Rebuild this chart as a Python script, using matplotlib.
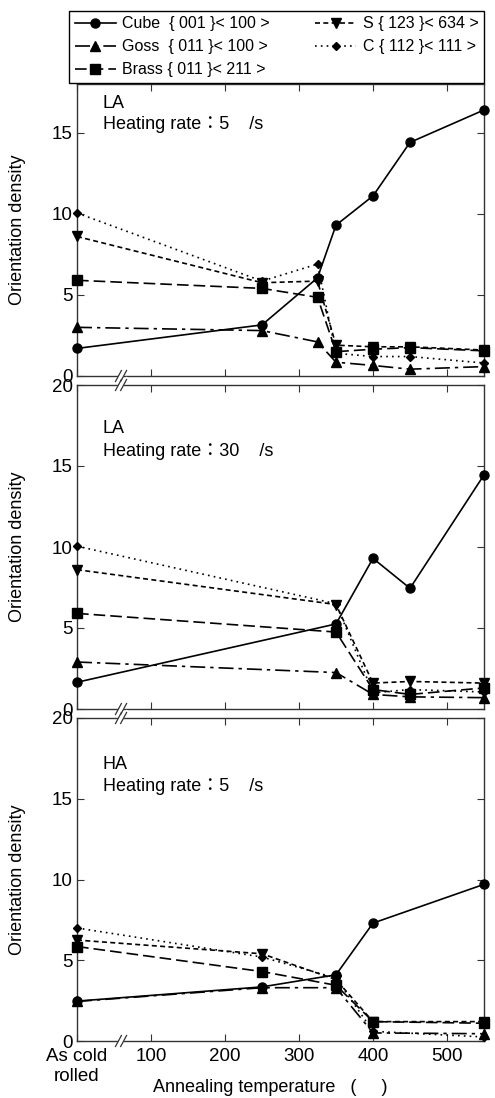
import numpy as np
import matplotlib
matplotlib.use("Agg")
import matplotlib.pyplot as plt

plt.rcParams['font.family'] = ['Liberation Sans', 'Noto Sans CJK JP', 'DejaVu Sans']

# ---- data ----
names = ["Cube  { 001 }< 100 >", "Goss  { 011 }< 100 >", "Brass { 011 }< 211 >",
         "S { 123 }< 634 >", "C { 112 }< 111 >"]

x_la5 = [0, 250, 325, 350, 400, 450, 550]
cube_la5 = [1.7, 3.15, 6.05, 9.3, 11.1, 14.4, 16.4]
goss_la5 = [3.0, 2.8, 2.1, 0.85, 0.65, 0.42, 0.58]
brass_la5 = [5.9, 5.4, 4.85, 1.5, 1.65, 1.75, 1.55]
s_la5 = [8.6, 5.75, 5.85, 1.9, 1.8, 1.8, 1.6]
c_la5 = [10.05, 5.85, 6.9, 1.4, 1.2, 1.2, 0.8]

x_la30 = [0, 350, 400, 450, 550]
cube_la30 = [1.65, 5.25, 9.3, 7.45, 14.45]
goss_la30 = [2.9, 2.25, 0.9, 0.75, 0.7]
brass_la30 = [5.9, 4.75, 1.2, 0.9, 1.3]
s_la30 = [8.6, 6.45, 1.6, 1.7, 1.6]
c_la30 = [10.05, 6.5, 1.0, 1.2, 1.05]

x_ha5 = [0, 250, 350, 400, 550]
cube_ha5 = [2.47, 3.35, 4.1, 7.3, 9.7]
goss_ha5 = [2.45, 3.3, 3.3, 0.5, 0.45]
brass_ha5 = [5.85, 4.3, 3.45, 1.2, 1.1]
s_ha5 = [6.25, 5.4, 3.8, 1.2, 1.2]
c_ha5 = [7.0, 5.2, 3.9, 0.6, 0.25]

xticks = [0, 100, 200, 300, 400, 500]
xticklabels = ["As cold\nrolled", "100", "200", "300", "400", "500"]

panels = [
    ("LA", "Heating rate：5    /s", x_la5, [cube_la5, goss_la5, brass_la5, s_la5, c_la5]),
    ("LA", "Heating rate：30    /s", x_la30, [cube_la30, goss_la30, brass_la30, s_la30, c_la30]),
    ("HA", "Heating rate：5    /s", x_ha5, [cube_ha5, goss_ha5, brass_ha5, s_ha5, c_ha5]),
]

styles = [
    dict(marker="o", ms=6.5, ls="-"),
    dict(marker="^", ms=6.5, ls=(0, (9, 3, 2, 3))),
    dict(marker="s", ms=7, ls=(0, (7, 3))),
    dict(marker="v", ms=6.5, ls=(0, (3, 2))),
    dict(marker="D", ms=4.5, ls=(0, (1, 2.5))),
]

W, H = 495, 1098
fig = plt.figure(figsize=(W / 100, H / 100), dpi=100)
left, right = 77, 484
boxes = [(84, 376, 18), (385, 709, 20), (718, 1041, 20)]
text_y = [(17.35, 16.0), (17.85, 16.45), (17.65, 16.3)]

spine_c = "#333333"
handles = []
for i, (tag, rate, xs, series) in enumerate(panels):
    top, bot, ymax = boxes[i]
    ax = fig.add_axes([left / W, 1 - bot / H, (right - left) / W, (bot - top) / H])
    for ys, st in zip(series, styles):
        ln, = ax.plot(xs, ys, color="black", lw=1.2, linestyle=st["ls"],
                      marker=st["marker"], ms=st["ms"], clip_on=False, zorder=3)
        if i == 0:
            handles.append(ln)
    ax.set_xlim(0, 550)
    ax.set_ylim(0, ymax)
    ax.set_yticks([0, 5, 10, 15] + ([20] if ymax == 20 else []))
    ax.set_xticks(xticks)
    ax.tick_params(direction="in", top=True, right=True, length=5, width=0.8,
                   color=spine_c, labelsize=13.5, pad=3)
    ax.tick_params(axis="x", pad=5)
    if i == 2:
        ax.set_xticklabels(xticklabels, linespacing=1.2)
    else:
        ax.set_xticklabels([])
    ax.set_ylabel("Orientation density", fontsize=13)
    ax.yaxis.set_label_coords(-0.125, 0.5)
    for sp in ax.spines.values():
        sp.set_color(spine_c)
        sp.set_linewidth(1.0)
    ax.text(35, text_y[i][0], tag, fontsize=13, va="top", ha="left")
    ax.text(35, text_y[i][1], rate, fontsize=13, va="top", ha="left")

    # axis break marks
    tr = ax.get_xaxis_transform()
    dy = 11 / (bot - top)
    for y0 in ([0.0, 1.0] if i > 0 else [0.0]):
        ax.plot([53, 67], [y0 - dy / 2, y0 + dy / 2], transform=tr, color="white",
                lw=3, clip_on=False, zorder=4)
        for xb in (52, 59):
            ax.plot([xb, xb + 8], [y0 - dy / 2, y0 + dy / 2], transform=tr,
                    color=spine_c, lw=0.9, clip_on=False, zorder=5)

fig.text(270 / W, 1 - 1087 / H, "Annealing temperature   (     )", fontsize=13,
         ha="center", va="center")

leg = fig.legend(handles, names,
                 loc="lower left", bbox_to_anchor=(61 / W, 1 - 91 / H, 431 / W, 78 / H),
                 mode="expand", ncol=2, fontsize=11.5, frameon=True, fancybox=False,
                 edgecolor="black", framealpha=1, handlelength=2.6, handletextpad=0.4,
                 labelspacing=0.5, borderpad=0.35, columnspacing=0.8)
leg.get_frame().set_linewidth(1.0)
leg.set_zorder(10)

fig.savefig("out.png", dpi=100)
